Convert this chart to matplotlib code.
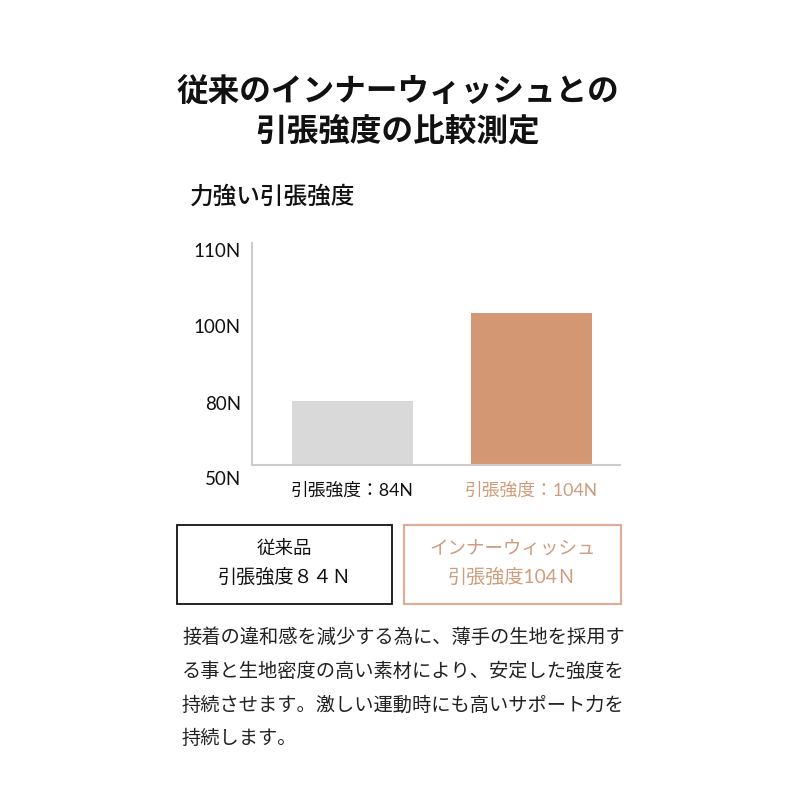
import numpy as np
import matplotlib
matplotlib.use("Agg")
import matplotlib.pyplot as plt
from matplotlib.patches import Rectangle

plt.rcParams['font.family'] = ['Noto Sans CJK JP', 'DejaVu Sans']
LATIN = ['Lato', 'Noto Sans CJK JP', 'DejaVu Sans']

# ---- data ----
title_lines = ["従来のインナーウィッシュとの", "引張強度の比較測定"]
subtitle = "力強い引張強度"
categories = ["引張強度：84N", "引張強度：104N"]
values = [84, 104]
tick_values = [50, 80, 100, 110]
tick_labels = ["50N", "80N", "100N", "110N"]
box_texts = [["従来品", "引張強度８４Ｎ"], ["インナーウィッシュ", "引張強度104Ｎ"]]
body_lines = [
    "接着の違和感を減少する為に、薄手の生地を採用す",
    "る事と生地密度の高い素材により、安定した強度を",
    "持続させます。激しい運動時にも高いサポート力を",
    "持続します。",
]

# illustrative (non-linear) value axis of the original infographic
scale_vals = np.array([0, 50, 80, 84, 100, 104, 110, 130], dtype=float)
scale_pos = np.array([0, 125, 199.5, 201, 275, 288, 350, 556], dtype=float)

def fwd(v):
    return np.interp(v, scale_vals, scale_pos)

def inv(p):
    return np.interp(p, scale_pos, scale_vals)

gray = "#d9d9d9"
orange = "#d39873"
orange_txt = "#cf9c7c"
orange_border = "#dcb096"
axis_c = "#cccccc"

fig = plt.figure(figsize=(8, 8), dpi=100)
W = H = 800.0

def fx(px):
    return px / W

def fy(py):
    return 1 - py / H

# Title
fig.text(fx(398), fy(92), title_lines[0], ha='center', va='center',
         fontsize=22.8, fontweight='bold', color='#111111')
fig.text(fx(398), fy(131), title_lines[1], ha='center', va='center',
         fontsize=22.8, fontweight='bold', color='#111111')
fig.text(fx(190), fy(197), subtitle, ha='left', va='center',
         fontsize=17, fontweight='medium', color='#111111')

# Axes: left 252, right 620; top at value 110.7, bottom at value 50 (pixel 478)
ax_left, ax_right = 252, 620
ax_top_px, ax_bot_px = 243, 478
ax = fig.add_axes([fx(ax_left), fy(ax_bot_px), (ax_right - ax_left) / W,
                   (ax_bot_px - ax_top_px) / H])
ax.set_yscale('function', functions=(fwd, inv))
baseline = 55
ax.set_ylim(50, 110.7)
ax.set_xlim(0, 368)

bar_x = [100, 279]
ax.bar(bar_x, [v - baseline for v in values], bottom=baseline, width=121,
       color=[gray, orange], linewidth=0)

for s in ['top', 'right']:
    ax.spines[s].set_visible(False)
ax.spines['left'].set_bounds(baseline, 110.7)
ax.spines['left'].set_color(axis_c)
ax.spines['left'].set_linewidth(1.5)
ax.spines['bottom'].set_position(('data', baseline))
ax.spines['bottom'].set_color(axis_c)
ax.spines['bottom'].set_linewidth(1.5)

ax.set_yticks(tick_values)
ax.set_yticklabels(tick_labels, family=LATIN)
ax.yaxis.set_minor_locator(matplotlib.ticker.NullLocator())
ax.tick_params(axis='y', length=0, pad=8, labelsize=13.5, labelcolor='#111111')
ax.set_xticks(bar_x)
ax.set_xticklabels(categories, family=LATIN)
ax.tick_params(axis='x', length=0, pad=12, labelsize=12.8)
xl = ax.get_xticklabels()
xl[0].set_color('#111111')
xl[1].set_color(orange_txt)
ax.patch.set_alpha(0)

# Boxes
boxes = [(177, 392, '#111111', 1.3, '#111111'), (404, 621, orange_border, 1.6, orange_txt)]
for (x0, x1, ec, lw, tc), lines in zip(boxes, box_texts):
    y0, y1 = 525, 604
    fig.patches.append(Rectangle((fx(x0), fy(y1)), (x1 - x0) / W, (y1 - y0) / H,
                                 transform=fig.transFigure, fill=False,
                                 edgecolor=ec, linewidth=lw))
    cx = (x0 + x1) / 2
    fig.text(fx(cx), fy(549), lines[0], ha='center', va='center',
             fontsize=13.3, color=tc)
    fig.text(fx(cx), fy(577), lines[1], ha='center', va='center',
             fontsize=13.8, color=tc, family=LATIN)

# Body text
for i, line in enumerate(body_lines):
    fig.text(fx(182), fy(637 + 34 * i), line, ha='left', va='center',
             fontsize=13.85, color='#222222')

fig.savefig("out.png", dpi=100, facecolor='white')
